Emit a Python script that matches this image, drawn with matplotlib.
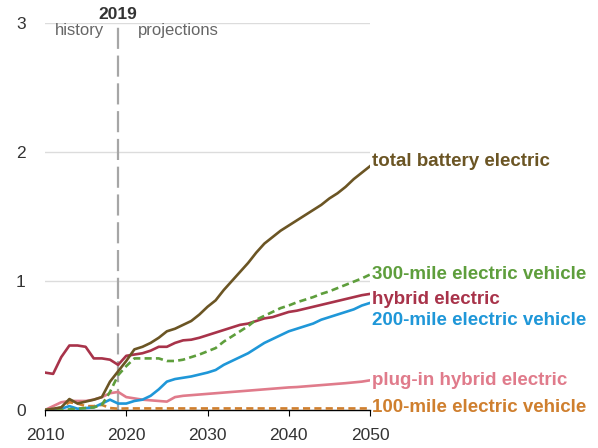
import matplotlib
matplotlib.use("Agg")
import matplotlib.pyplot as plt
import numpy as np

plt.rcParams['font.family'] = ['Liberation Sans', 'DejaVu Sans']

years = list(range(2010, 2051))

total_battery = [0.0, 0.01, 0.02, 0.085, 0.05, 0.065, 0.08, 0.10, 0.22, 0.30,
                 0.38, 0.47, 0.49, 0.52, 0.56, 0.61, 0.63, 0.66, 0.69, 0.74,
                 0.80, 0.85, 0.93, 1.00, 1.07, 1.14, 1.22, 1.29, 1.34, 1.39,
                 1.43, 1.47, 1.51, 1.55, 1.59, 1.64, 1.68, 1.73, 1.79, 1.84, 1.89]

mile300 = [0.0, 0.0, 0.0, 0.005, 0.01, 0.015, 0.02, 0.04, 0.14, 0.27,
           0.34, 0.40, 0.40, 0.40, 0.40, 0.38, 0.38, 0.39, 0.41, 0.43,
           0.455, 0.48, 0.53, 0.57, 0.61, 0.65, 0.70, 0.73, 0.76, 0.79,
           0.81, 0.835, 0.855, 0.875, 0.90, 0.92, 0.945, 0.97, 0.995, 1.02, 1.05]

hybrid = [0.29, 0.28, 0.41, 0.50, 0.50, 0.49, 0.40, 0.40, 0.39, 0.35,
          0.42, 0.43, 0.44, 0.46, 0.49, 0.49, 0.52, 0.54, 0.545, 0.56,
          0.58, 0.60, 0.62, 0.64, 0.66, 0.67, 0.69, 0.71, 0.72, 0.74,
          0.76, 0.77, 0.785, 0.80, 0.815, 0.83, 0.845, 0.86, 0.875, 0.89, 0.90]

mile200 = [0.0, 0.0, 0.01, 0.03, 0.01, 0.015, 0.02, 0.05, 0.08, 0.05,
           0.05, 0.07, 0.08, 0.11, 0.16, 0.22, 0.24, 0.25, 0.26, 0.275,
           0.29, 0.31, 0.35, 0.38, 0.41, 0.44, 0.48, 0.52, 0.55, 0.58,
           0.61, 0.63, 0.65, 0.67, 0.70, 0.72, 0.74, 0.76, 0.78, 0.81, 0.83]

plugin_hybrid = [0.0, 0.03, 0.06, 0.07, 0.07, 0.07, 0.08, 0.10, 0.13, 0.14,
                 0.10, 0.09, 0.08, 0.075, 0.07, 0.065, 0.10, 0.11, 0.115, 0.12,
                 0.125, 0.13, 0.135, 0.14, 0.145, 0.15, 0.155, 0.16, 0.165, 0.17,
                 0.175, 0.178, 0.183, 0.188, 0.193, 0.198, 0.203, 0.208, 0.214, 0.22, 0.23]

mile100 = [0.0, 0.005, 0.02, 0.06, 0.05, 0.03, 0.03, 0.04, 0.015, 0.01] + [0.012] * 31

series = [
    ("plug-in hybrid electric", plugin_hybrid, "#e07b8b", "-", 0.23),
    ("100-mile electric vehicle", mile100, "#cf7f2e", "--", 0.02),
    ("200-mile electric vehicle", mile200, "#1f97d8", "-", 0.69),
    ("hybrid electric", hybrid, "#a8334a", "-", 0.86),
    ("300-mile electric vehicle", mile300, "#5e9e3c", "--", 1.05),
    ("total battery electric", total_battery, "#6b5524", "-", 1.93),
]

fig = plt.figure(figsize=(5.98, 4.48), dpi=100)
ax = fig.add_axes([45/598, 38/448, 325/598, 387/448])

ax.set_xlim(2010, 2050)
ax.set_ylim(0, 3)
ax.set_yticks([0, 1, 2, 3])
ax.set_xticks([2010, 2020, 2030, 2040, 2050])
ax.grid(axis='y', color='#dcdcdc', linewidth=1)
ax.set_axisbelow(True)
for s in ['top', 'right', 'left']:
    ax.spines[s].set_visible(False)
ax.spines['bottom'].set_color('#000000')
ax.spines['bottom'].set_linewidth(1.0)
ax.tick_params(axis='y', length=0, pad=14, labelsize=12.5, labelcolor='#333333')
ax.tick_params(axis='x', length=4, width=0.8, color='#000000', pad=9, labelsize=12.5, labelcolor='#333333')

# vertical 2019 divider
ax.axvline(2019, color='#a6a6a6', lw=1.6, linestyle=(0, (9.5, 3.0)), zorder=1)

for name, vals, col, ls, ly in series:
    if ls == '--':
        ax.plot(years, vals, color=col, lw=1.9, linestyle=(0, (2.7, 1.6)), zorder=3)
    else:
        ax.plot(years, vals, color=col, lw=1.9, zorder=3)
    ax.text(2050.3, ly, name, color=col, fontsize=13.5, fontweight='bold',
            va='center', ha='left', clip_on=False)

ax.text(2019, 3.01, "2019", ha='center', va='bottom', fontsize=12.5,
        fontweight='bold', color='#333333')
ax.text(2014.2, 2.94, "history", ha='center', va='center', fontsize=12,
        color='#666666')
ax.text(2026.4, 2.94, "projections", ha='center', va='center', fontsize=12,
        color='#666666')

fig.savefig("out.png", dpi=100)
